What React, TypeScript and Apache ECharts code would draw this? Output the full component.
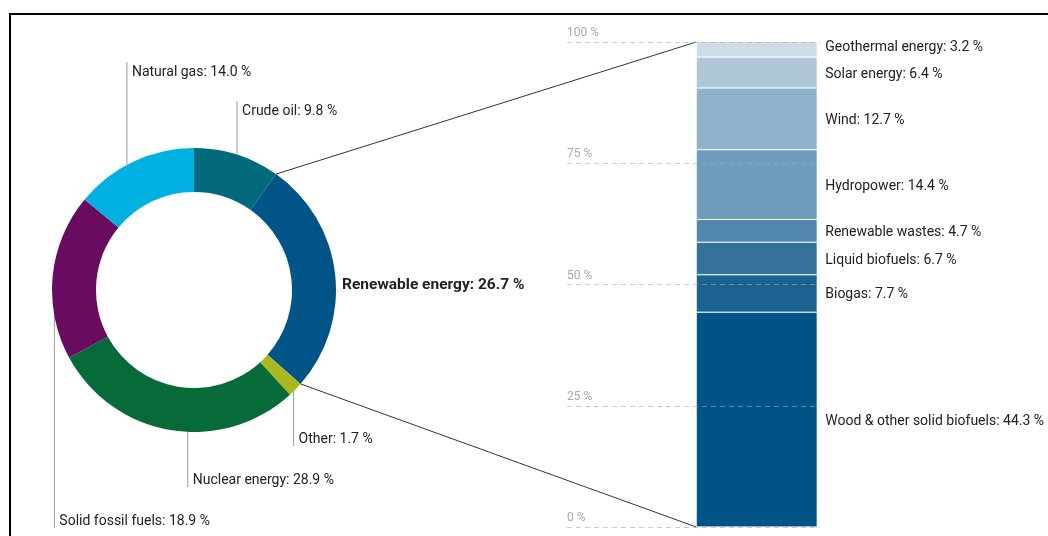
import React, { useEffect, useRef } from 'react';
import * as echarts from 'echarts';

// ---- data ----
const mixCategories = ['Crude oil', 'Renewable energy', 'Other', 'Nuclear energy', 'Solid fossil fuels', 'Natural gas'];
const mixShares = [9.8, 26.7, 1.7, 28.9, 18.9, 14.0];
const renewableCategories = [
  'Wood & other solid biofuels', 'Biogas', 'Liquid biofuels', 'Renewable wastes',
  'Hydropower', 'Wind', 'Solar energy', 'Geothermal energy',
];
const renewableShares = [44.3, 7.7, 6.7, 4.7, 14.4, 12.7, 6.4, 3.2];
const axisTicks = [0, 25, 50, 75, 100];

// ---- styles / layout ----
const mixColors = ['#036a7e', '#005487', '#a8b920', '#066b39', '#690c5f', '#00b1e1'];
const renewableColors = ['#005386', '#1c6291', '#34729c', '#5287ad', '#6e9dbd', '#8fb2cb', '#afc7d8', '#cddde7'];
const FONT = 'Roboto, "Liberation Sans", sans-serif';
const LABEL_SIZE = 14;
const PIE_CENTER = [194, 290];
const PIE_RADIUS = [98, 142];
const BAR_WIDTH = 121;
// label placement: angle shift of the leader anchor (deg) and label centre y
const pieLabelPlace = [
  { shift: 0, y: 110 },
  { shift: 0, y: 284 },
  { shift: 1, y: 438 },
  { shift: -7, y: 479 },
  { shift: -16, y: 520 },
  { shift: -3, y: 71 },
];
const HIGHLIGHT = 1;

export default function App() {
  const ref = useRef<HTMLDivElement>(null);
  useEffect(() => {
    if (!ref.current) return;
    const chart = echarts.init(ref.current, undefined, { renderer: 'svg' });
    const total = mixShares.reduce((a, b) => a + b, 0);
    const startA: number[] = [];
    const endA: number[] = [];
    let acc = 0;
    mixShares.forEach((v) => {
      startA.push((acc / total) * 360);
      acc += v;
      endA.push((acc / total) * 360);
    });
    const R = PIE_RADIUS[1];
    const pt = (deg: number) => {
      const t = (deg * Math.PI) / 180;
      return [PIE_CENTER[0] + R * Math.sin(t), PIE_CENTER[1] - R * Math.cos(t)];
    };

    const barSeries = renewableCategories.map((name, i) => ({
      type: 'bar',
      name,
      stack: 'ren',
      barWidth: BAR_WIDTH,
      data: ['-', renewableShares[i]],
      itemStyle: { color: renewableColors[i], borderColor: 'rgba(255,255,255,0.12)', borderWidth: 1 },
      label: {
        show: true,
        position: 'right',
        distance: 8,
        color: '#222',
        fontSize: LABEL_SIZE,
        fontFamily: FONT,
        offset: i === renewableCategories.length - 1 ? [0, -3] : [0, 0],
        formatter: (p: any) => `${p.seriesName}: ${Number(p.value).toFixed(1)} %`,
      },
      z: 2,
    }));

    chart.setOption({
      animation: false,
      grid: { left: 567, top: 42, width: 253, height: 485, containLabel: false },
      xAxis: { type: 'category', data: ['', 'Renewable energy'], show: false },
      yAxis: {
        type: 'value',
        min: axisTicks[0],
        max: axisTicks[axisTicks.length - 1],
        interval: axisTicks[1] - axisTicks[0],
        axisLine: { show: false },
        axisTick: { show: false },
        z: 5,
        splitLine: { show: true, lineStyle: { color: 'rgba(170,170,170,0.6)', type: [5, 4], width: 1 } },
        axisLabel: {
          inside: true,
          margin: 0,
          align: 'left',
          verticalAlign: 'bottom',
          padding: [0, 0, 4, 0],
          color: '#a8a8a8',
          fontSize: 12,
          fontFamily: FONT,
          formatter: '{value} %',
        },
      },
      series: [
        {
          type: 'pie',
          center: PIE_CENTER,
          radius: PIE_RADIUS,
          startAngle: 90,
          clockwise: true,
          avoidLabelOverlap: false,
          data: mixCategories.map((name, i) => ({
            name,
            value: mixShares[i],
            itemStyle: { color: mixColors[i] },
            label: i === HIGHLIGHT ? { fontWeight: 'bold', fontSize: 15.5 } : {},
            labelLine: i === HIGHLIGHT ? { show: false } : { show: true },
          })),
          label: {
            show: true,
            position: 'outside',
            color: '#222',
            fontSize: LABEL_SIZE,
            fontFamily: FONT,
            formatter: (p: any) => `${p.name}: ${Number(p.value).toFixed(1)} %`,
          },
          labelLine: { show: true, lineStyle: { color: '#9a9a9a', width: 1 } },
          labelLayout: (params: any) => {
            const i = params.dataIndex;
            const place = pieLabelPlace[i];
            const mid = (startA[i] + endA[i]) / 2 + place.shift;
            const [ax, ay] = pt(mid);
            if (i === HIGHLIGHT) {
              return { x: ax + 7, y: place.y, align: 'left', verticalAlign: 'middle' };
            }
            const above = place.y < ay;
            const endY = above ? place.y - 9 : place.y + 8;
            return {
              x: ax + 5,
              y: place.y,
              align: 'left',
              verticalAlign: 'middle',
              labelLinePoints: [[ax, ay], [ax, endY]],
            };
          },
          emphasis: { disabled: true },
        },
        ...barSeries,
      ],
    });

    const top = chart.convertToPixel({ xAxisIndex: 0, yAxisIndex: 0 }, [1, axisTicks[axisTicks.length - 1]]) as number[];
    const bottom = chart.convertToPixel({ xAxisIndex: 0, yAxisIndex: 0 }, [1, axisTicks[0]]) as number[];
    const barLeft = top[0] - BAR_WIDTH / 2;
    const p1 = pt(startA[HIGHLIGHT]);
    const p2 = pt(endA[HIGHLIGHT]);
    chart.setOption({
      graphic: {
        elements: [
          {
            type: 'rect',
            shape: { x: 10, y: 14, width: 1200, height: 700 },
            style: { fill: 'none', stroke: '#000', lineWidth: 2 },
            silent: true,
          },
          {
            type: 'line',
            shape: { x1: p1[0], y1: p1[1], x2: barLeft, y2: top[1] },
            style: { stroke: '#333', lineWidth: 1 },
            silent: true,
          },
          {
            type: 'line',
            shape: { x1: p2[0], y1: p2[1], x2: barLeft, y2: bottom[1] },
            style: { stroke: '#333', lineWidth: 1 },
            silent: true,
          },
        ],
      },
    });
    return () => chart.dispose();
  }, []);
  return <div ref={ref} style={{ position: 'fixed', left: 0, top: 0, width: 1048, height: 536 }} />;
}
